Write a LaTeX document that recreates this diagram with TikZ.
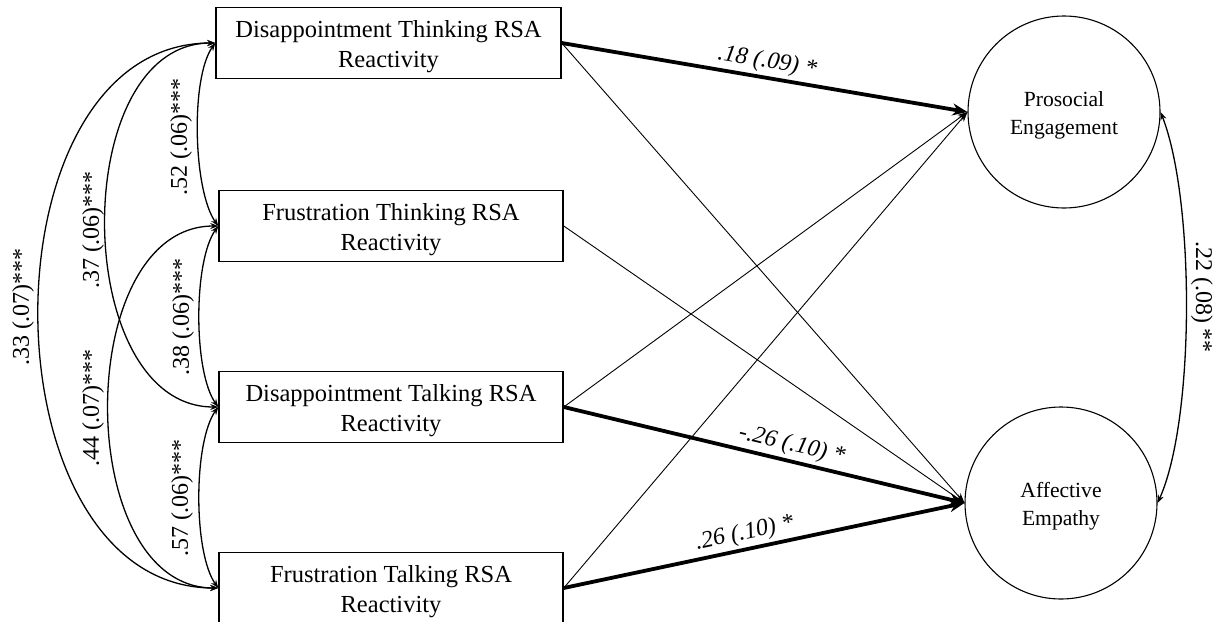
\documentclass[tikz,border=0pt]{standalone}
\usepackage{fontspec}
\setmainfont{Liberation Serif}
\usetikzlibrary{arrows.meta}
\newcommand{\boxstrut}{\rule{0pt}{24pt}}
\newcommand{\circstrut}{\rule{0pt}{21pt}}
\begin{document}
\begin{tikzpicture}[x=1pt,y=-1pt,
  rbox/.style={draw, line width=1.5pt, minimum height=71pt, inner sep=0pt, align=center, font=\fontsize{24.5}{30}\selectfont},
  lat/.style={draw, circle, line width=1.1pt, minimum size=192pt, inner sep=0pt, align=center, font=\fontsize{21.6}{28}\selectfont},
  cov/.style={line width=1.3pt, {Stealth[length=8pt,width=6pt]}-{Stealth[length=8pt,width=6pt]}},
  weakpath/.style={line width=0.9pt, -{Stealth[length=10pt,width=7pt]}},
  sigpath/.style={line width=3.8pt, -{Stealth[length=15pt,width=12pt]}},
  lab/.style={font=\fontsize{24}{28}\selectfont, inner sep=0pt},
  elab/.style={font=\itshape\fontsize{24}{28}\selectfont, sloped, above, inner sep=3pt}
]
\useasboundingbox (0,0) rectangle (1215,621);

% observed variables
\node[rbox, minimum width=345pt] (B1) at (388.5,43) {\boxstrut Disappointment Thinking RSA\\Reactivity};
\node[rbox, minimum width=344pt] (B2) at (391,226) {\boxstrut Frustration Thinking RSA\\Reactivity};
\node[rbox, minimum width=344pt] (B3) at (391,407) {\boxstrut Disappointment Talking RSA\\Reactivity};
\node[rbox, minimum width=344pt] (B4) at (391,588) {\boxstrut Frustration Talking RSA\\Reactivity};

% outcomes
\node[lat] (PE) at (1064,112) {\circstrut Prosocial\\Engagement};
\node[lat] (AE) at (1061,503) {\circstrut Affective\\Empathy};

% covariances among predictors
\draw[cov] (B1.west) .. controls +(-25,35) and +(-25,-35) .. (B2.west);
\draw[cov] (B2.west) .. controls +(-25,35) and +(-25,-35) .. (B3.west);
\draw[cov] (B3.west) .. controls +(-25,35) and +(-25,-35) .. (B4.west);
\draw[cov] (B1.west) .. controls +(-148,0) and +(-148,0) .. (B3.west);
\draw[cov] (B2.west) .. controls +(-146,0) and +(-146,0) .. (B4.west);
\draw[cov] (B1.west) .. controls +(-237,0) and +(-237,0) .. (B4.west);

\node[lab, rotate=90] (l52) at (181,137) {.52 (.06)***};
\node[lab, rotate=90] (l37) at (93,230) {.37 (.06)***};
\node[lab, rotate=90] (l33) at (23,307) {.33 (.07)***};
\node[lab, rotate=90] (l38) at (183,317) {.38 (.06)***};
\node[lab, rotate=90] (l44) at (93,408) {.44 (.07)***};
\node[lab, rotate=90] (l57) at (182,498) {.57 (.06)***};

% outcome covariance
\draw[cov] (PE.east) .. controls (1195,200) and (1195,420) .. (AE.east);
\node[lab, rotate=-90] (l22) at (1202,297) {.22 (.08) **};

% regression paths
\draw[weakpath] (B1.east) -- (AE.west);
\draw[weakpath] (B2.east) -- (AE.west);
\draw[weakpath] (B3.east) -- (PE.west);
\draw[weakpath] (B4.east) -- (PE.west);
\draw[sigpath] (B1.east) -- node[elab, pos=0.5] {.18 (.09) *} (PE.west);
\draw[sigpath] (B3.east) -- node[elab, pos=0.56] {-.26 (.10) *} (AE.west);
\draw[sigpath] (B4.east) -- node[elab, pos=0.46] {.26 (.10) *} (AE.west);
\end{tikzpicture}
\end{document}
